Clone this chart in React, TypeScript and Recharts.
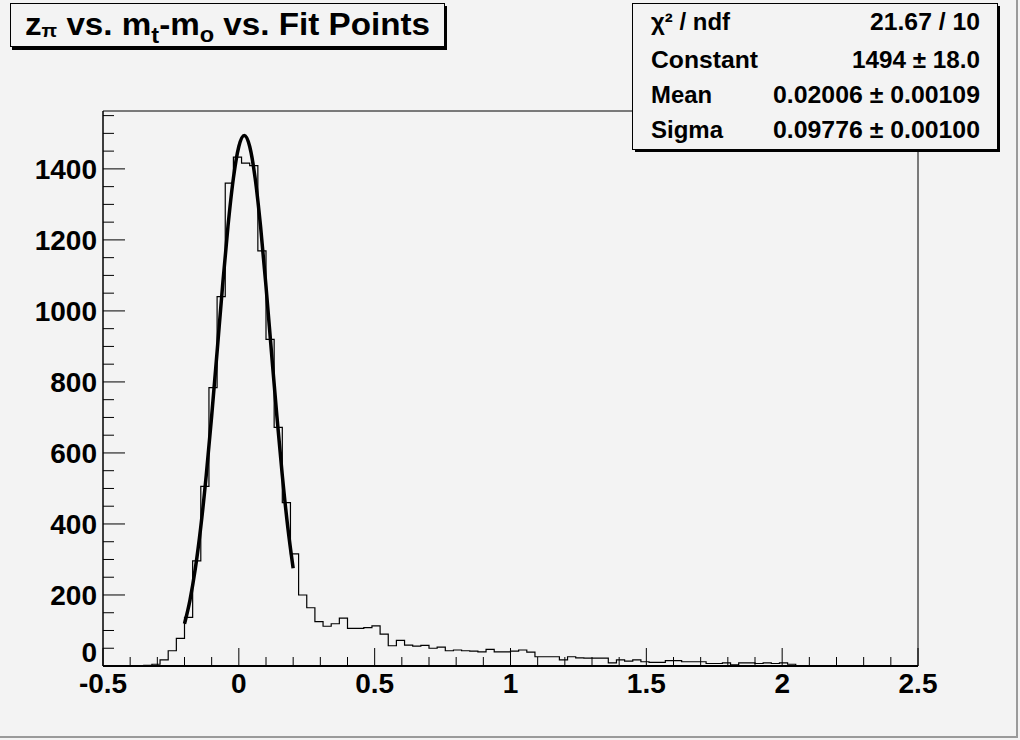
import { LineChart, Line, XAxis, YAxis, ReferenceArea } from "recharts";

// histogram: 100 bins from -0.5 to 2.5
const binLow = -0.5;
const binWidth = 0.03;
const binCounts = [
  0, 0, 0, 0, 0, 2, 5, 17, 43, 78,
  137, 296, 506, 784, 1040, 1360, 1433, 1416, 1409, 1169,
  920, 672, 460, 316, 200, 164, 125, 112, 119, 135,
  106, 106, 108, 113, 90, 57, 72, 59, 56, 58,
  50, 53, 43, 45, 43, 42, 40, 47, 40, 40,
  42, 45, 39, 26, 26, 26, 17, 26, 23, 22,
  22, 22, 9, 17, 14, 17, 12, 10, 10, 15,
  15, 12, 12, 12, 7, 7, 9, 3, 9, 9,
  7, 9, 7, 9, 5, 1, 0, 0, 0, 0,
  0, 0, 0, 0, 0, 0, 0, 0, 0, 0,
];

// gaussian fit curve
const fitX = [-0.2, -0.18, -0.16, -0.14, -0.12, -0.1, -0.08, -0.06, -0.04, -0.02, 0, 0.02, 0.04, 0.06, 0.08, 0.1, 0.12, 0.14, 0.16, 0.18, 0.2];
const fitY = [119, 185, 275, 392, 537, 704, 885, 1069, 1238, 1374, 1463, 1494, 1463, 1374, 1238, 1069, 885, 704, 537, 392, 275];

const xMajorTicks = [-0.5, 0, 0.5, 1, 1.5, 2, 2.5];
const xTicks = Array.from({ length: 31 }, (_, i) => Math.round(i - 5) / 10);
const yMajorTicks = [0, 200, 400, 600, 800, 1000, 1200, 1400];
const yTicks = Array.from({ length: 32 }, (_, i) => i * 50);
const yMax = 1563;

const statsRows = [
  { label: "χ² / ndf", value: "21.67 / 10" },
  { label: "Constant", value: "1494 ± 18.0" },
  { label: "Mean", value: "0.02006 ± 0.00109" },
  { label: "Sigma", value: "0.09776 ± 0.00100" },
];

const histData = [
  ...binCounts.map((c, i) => ({ x: Math.round((binLow + i * binWidth) * 1000) / 1000, y: c })),
  { x: 2.5, y: binCounts[binCounts.length - 1] },
];
const fitData = fitX.map((x, i) => ({ x, y: fitY[i] }));

const FONT = "'Liberation Sans', Arial, Helvetica, sans-serif";
const BG = "#f3f3f3";

function XTick(props: any) {
  const { x, y, payload } = props;
  const v = payload.value;
  const major = xMajorTicks.some((t) => Math.abs(t - v) < 1e-9);
  return (
    <g>
      <line x1={x} x2={x} y1={y} y2={y - (major ? 18 : 9)} stroke="#000" strokeWidth={1} />
      {major && (
        <text x={x} y={y + 27} textAnchor="middle" fontSize={28} fontWeight="bold" fontFamily={FONT} fill="#000">
          {String(v)}
        </text>
      )}
    </g>
  );
}

function YTick(props: any) {
  const { x, y, payload } = props;
  const v = payload.value;
  const major = yMajorTicks.includes(v);
  return (
    <g>
      <line x1={x} x2={x + (major ? 22 : 11)} y1={y} y2={y} stroke="#000" strokeWidth={1} />
      {major && (
        <text x={x - 6} y={v === 0 ? y - 4 : y + 10} textAnchor="end" fontSize={28} fontWeight="bold" fontFamily={FONT} fill="#000">
          {v}
        </text>
      )}
    </g>
  );
}

const labelWidths = [79, 107, 61, 72];
const valueWidths = [110, 128, 207, 207];
const rowBaselines = [30, 68, 103, 138];

export default function App() {
  return (
    <div style={{ position: "absolute", left: 0, top: 0, width: 1020, height: 740, background: BG, overflow: "hidden" }}>
      <LineChart width={1020} height={740} margin={{ top: 111, right: 102, bottom: 34, left: 43 }}>
        <XAxis
          dataKey="x"
          type="number"
          domain={[-0.5, 2.5]}
          ticks={xTicks}
          interval={0}
          height={40}
          tickSize={0}
          tickMargin={0}
          tickLine={false}
          tick={<XTick />}
          axisLine={{ stroke: "#000", strokeWidth: 2 }}
          allowDataOverflow
        />
        <YAxis
          type="number"
          domain={[0, yMax]}
          ticks={yTicks}
          interval={0}
          width={60}
          tickSize={0}
          tickMargin={0}
          tickLine={false}
          tick={<YTick />}
          axisLine={{ stroke: "#000", strokeWidth: 1 }}
          allowDataOverflow
        />
        <ReferenceArea x1={-0.5} x2={2.5} y1={0} y2={yMax} fill="none" fillOpacity={0} stroke="#000" strokeWidth={1} />
        <Line
          data={histData}
          dataKey="y"
          type="stepAfter"
          stroke="#000"
          strokeWidth={1.2}
          dot={false}
          isAnimationActive={false}
        />
        <Line
          data={fitData}
          dataKey="y"
          type="monotone"
          stroke="#000"
          strokeWidth={3.5}
          dot={false}
          isAnimationActive={false}
        />
      </LineChart>

      <svg width={1020} height={740} style={{ position: "absolute", left: 0, top: 0, pointerEvents: "none" }}>
        {/* title box */}
        <rect x={12} y={6} width={435} height={44} fill="#000" />
        <rect x={10.5} y={3.5} width={434} height={43} fill={BG} stroke="#000" strokeWidth={1} />
        <text x={25} y={35} fontSize={31} fontWeight="bold" fontFamily={FONT} fill="#000" textLength={405} lengthAdjust="spacingAndGlyphs">
          z<tspan fontSize={19} dy={2}>π</tspan>
          <tspan dy={-2}> vs. m</tspan>
          <tspan fontSize={22} dy={8}>t</tspan>
          <tspan dy={-8}>-m</tspan>
          <tspan fontSize={22} dy={7}>o</tspan>
          <tspan dy={-7}> vs. Fit Points</tspan>
        </text>

        {/* stats box */}
        <rect x={635} y={6} width={365} height={146} fill="#000" />
        <rect x={632.5} y={3.5} width={365} height={146} fill={BG} stroke="#000" strokeWidth={1} />
        {statsRows.map((r, i) => (
          <g key={r.label}>
            <text x={651} y={rowBaselines[i]} fontSize={24} fontWeight="bold" fontFamily={FONT} fill="#000" textLength={labelWidths[i]} lengthAdjust="spacingAndGlyphs">
              {r.label}
            </text>
            <text x={980} y={rowBaselines[i]} textAnchor="end" fontSize={24} fontWeight="bold" fontFamily={FONT} fill="#000" textLength={valueWidths[i]} lengthAdjust="spacingAndGlyphs">
              {r.value}
            </text>
          </g>
        ))}

        {/* canvas bevel */}
        <line x1={1017} y1={0} x2={1017} y2={738} stroke="#9a9a9a" strokeWidth={2} />
        <line x1={0} y1={737} x2={1018} y2={737} stroke="#9a9a9a" strokeWidth={2} />
      </svg>
    </div>
  );
}
